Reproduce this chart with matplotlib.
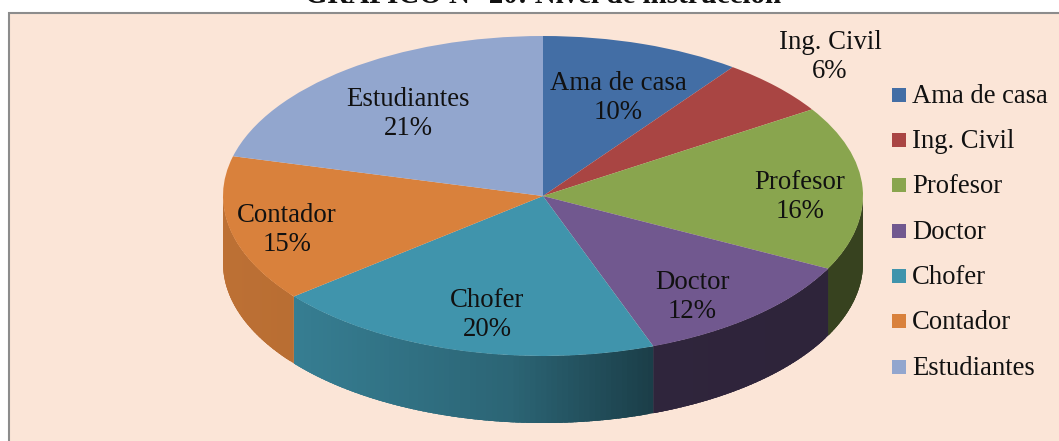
import numpy as np
import matplotlib
matplotlib.use("Agg")
import matplotlib.pyplot as plt
from matplotlib.patches import Rectangle, Polygon
from matplotlib.colors import to_rgb

W, H = 1059, 441
categories = ["Ama de casa", "Ing. Civil", "Profesor", "Doctor", "Chofer", "Contador", "Estudiantes"]
values = [10.1, 5.8, 16.6, 11.9, 19.8, 14.8, 21.0]
percent_labels = [10, 6, 16, 12, 20, 15, 21]
colors = ["#436EA5", "#A94543", "#89A54E", "#71588F", "#4094AC", "#D9813C", "#92A6CE"]
title = "GRÁFICO N° 20: Nivel de instrucción"
label_xy = [(618, 98), (830, 57), (800, 197), (692, 297), (487, 315), (287, 230), (408, 114)]
legend_y = [95, 140, 185, 231, 276, 321, 367]

plt.rcParams["font.family"] = ["Liberation Serif", "DejaVu Serif"]
fig = plt.figure(figsize=(W / 100, H / 100), dpi=100, facecolor="white")

# pixel-space axes: frame, texts, legend
pax = fig.add_axes([0, 0, 1, 1], zorder=3)
pax.set_xlim(0, W); pax.set_ylim(H, 0); pax.axis("off")
back = fig.add_axes([0, 0, 1, 1], zorder=1)
back.set_xlim(0, W); back.set_ylim(H, 0); back.axis("off")
back.add_patch(Rectangle((8.5, 13), W + 20, H + 20, facecolor="#FBE5D7", edgecolor="#8C8C8C", lw=1.5))

# pie axes: unit circle squashed to the 3-D ellipse
cx, cy, rx, ry, depth = 543, 196, 320, 160, 67
ax = fig.add_axes([0, 0, 1, 1], zorder=2)
ax.patch.set_alpha(0)
ax.pie(values, colors=colors, startangle=90, counterclock=False, radius=1, wedgeprops={"linewidth": 0})
ax.set_aspect("auto")
ax.set_xlim((0 - cx) / rx, (W - cx) / rx)
ax.set_ylim((cy - H) / ry, (cy - 0) / ry)
ax.axis("off")

# front wall, split at each slice boundary, shaded left to right
d = depth / ry
edges = np.cumsum([0] + values) / sum(values) * 2 * np.pi
def shade(c, th):
    base = np.array(to_rgb(c))
    f = np.interp(np.sin(th), [-1, -0.78, -0.1, 0.34, 1], [0.87, 0.85, 0.68, 0.42, 0.40])
    return tuple(base * f)
z = 0.5
for i, c in enumerate(colors):
    a0, a1 = edges[i], edges[i + 1]
    lo, hi = max(a0, np.pi / 2), min(a1, 3 * np.pi / 2)
    if hi <= lo:
        continue
    ts = np.linspace(lo, hi, max(2, int((hi - lo) * 60)))
    for t0, t1 in zip(ts[:-1], ts[1:]):
        # each strip overlaps the next, so no seams show through
        tt = np.linspace(t0, min(t1 + 0.03, hi), 6)
        x, y = np.sin(tt), np.cos(tt)
        pts = np.r_[np.c_[x, y], np.c_[x[::-1], y[::-1] - d]]
        ax.add_patch(Polygon(pts, closed=True, facecolor=shade(c, (t0 + t1) / 2), edgecolor="none", zorder=z))
        z += 0.0001
for w in ax.patches:
    if w.get_zorder() == 1:
        w.set_zorder(2)

# labels
for name, v, (x, y) in zip(categories, percent_labels, label_xy):
    pax.text(x, y, f"{name}\n{v}%", ha="center", va="center", fontsize=19.3, color="#111111", linespacing=1.25)

# legend
for name, c, y in zip(categories, colors, legend_y):
    pax.add_patch(Rectangle((892, y - 7), 14, 14, facecolor=c, edgecolor="none"))
    pax.text(912, y + 1.5, name, ha="left", va="center", fontsize=19.2, color="#111111")

# title, cropped by the top edge of the image
pax.text(543.5, 3, title, ha="center", va="baseline", fontsize=20.9, fontweight="bold", color="#111111", clip_on=False)

fig.savefig("out.png", dpi=100)
